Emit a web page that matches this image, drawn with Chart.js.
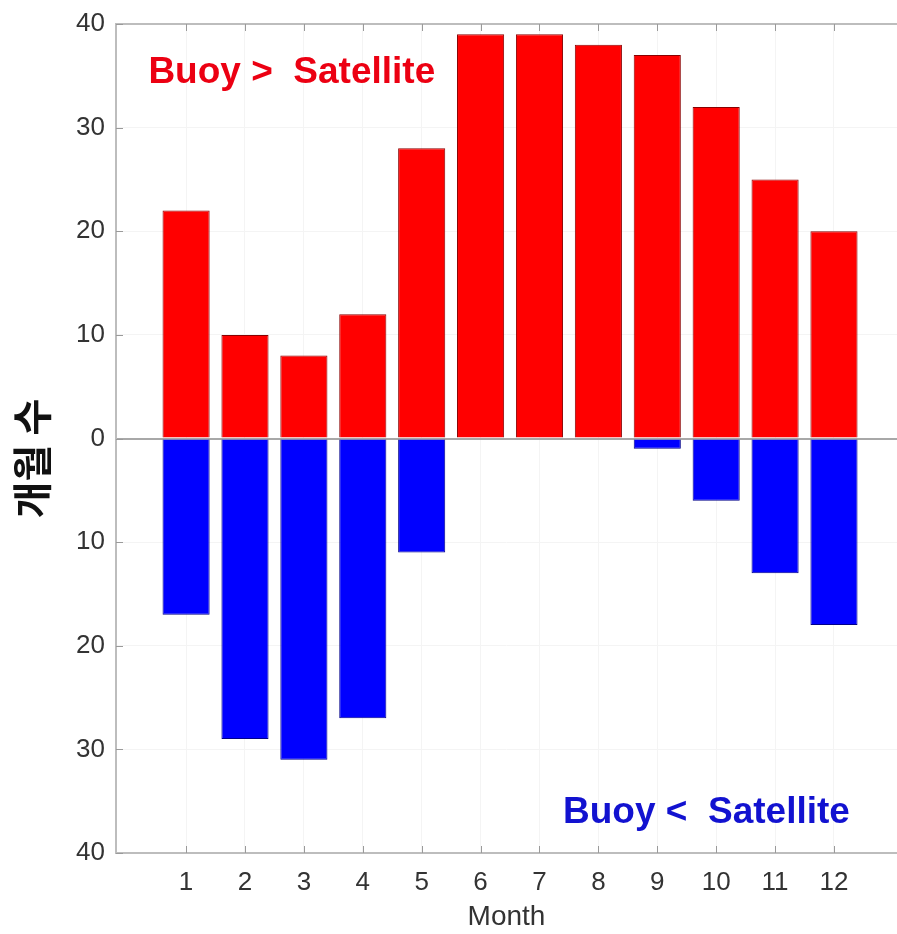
<!DOCTYPE html>
<html>
<head>
<meta charset="utf-8">
<script src="https://cdn.jsdelivr.net/npm/chart.js@4"></script>
<style>
  html, body { margin: 0; padding: 0; background: #ffffff; }
  #wrap { width: 897px; height: 934px; }
</style>
</head>
<body>
<div id="wrap"><canvas id="c" width="897" height="934"></canvas></div>
<script>
// Months of the year on the x axis
const months = [1, 2, 3, 4, 5, 6, 7, 8, 9, 10, 11, 12];
// Number of months where the buoy value exceeds the satellite value
const buoyHigher = [22, 10, 8, 12, 28, 39, 39, 38, 37, 32, 25, 20];
// Number of months where the satellite value exceeds the buoy value
const satelliteHigher = [17, 29, 31, 27, 11, 0, 0, 0, 1, 6, 13, 18];
// Count axis ticks (labels shown as magnitudes)
const countTicks = [-40, -30, -20, -10, 0, 10, 20, 30, 40];

const FONT = "'Liberation Sans', Arial, sans-serif";
const TICK_COLOR = '#333333';
const AXIS_COLOR = '#bdbdbd';

// Axis box with inward tick marks, the rotated y title and the two captions
const decorations = {
  id: 'decorations',
  afterDatasetsDraw(chart) {
    const { ctx, chartArea: a, scales: { x, y } } = chart;
    ctx.save();
    ctx.strokeStyle = AXIS_COLOR;
    ctx.lineWidth = 2;
    ctx.beginPath();
    ctx.moveTo(a.right + 2, a.top);
    ctx.lineTo(a.left, a.top);
    ctx.lineTo(a.left, a.bottom);
    ctx.lineTo(a.right + 2, a.bottom);
    ctx.stroke();

    ctx.lineWidth = 1;
    ctx.strokeStyle = '#9a9a9a';
    ctx.beginPath();
    months.forEach(m => {
      const px = Math.round(x.getPixelForValue(m)) + 0.5;
      ctx.moveTo(px, a.top); ctx.lineTo(px, a.top + 7);
      ctx.moveTo(px, a.bottom); ctx.lineTo(px, a.bottom - 7);
    });
    countTicks.forEach(v => {
      const py = Math.round(y.getPixelForValue(v)) + 0.5;
      ctx.moveTo(a.left, py); ctx.lineTo(a.left + 7, py);
    });
    ctx.stroke();

    // captions
    ctx.font = "bold 37px " + FONT;
    ctx.textBaseline = 'middle';
    ctx.fillStyle = '#ec0012';
    ctx.textAlign = 'left';
    ctx.fillText('Buoy >  Satellite', x.getPixelForValue(0.36), y.getPixelForValue(35.3));
    ctx.fillStyle = '#1212d0';
    ctx.textAlign = 'right';
    ctx.fillText('Buoy <  Satellite', x.getPixelForValue(12.27), y.getPixelForValue(-36.1));

    // y axis title
    ctx.translate(32, (a.top + a.bottom) / 2 + 20);
    ctx.rotate(-Math.PI / 2);
    ctx.font = "bold 40px 'Noto Sans CJK KR', sans-serif";
    ctx.fillStyle = '#111111';
    ctx.textAlign = 'center';
    ctx.fillText('개월 수', 0, 0);
    ctx.restore();
  }
};

new Chart(document.getElementById('c'), {
  type: 'bar',
  data: {
    datasets: [
      {
        label: 'Buoy > Satellite',
        data: months.map((m, i) => ({ x: m, y: buoyHigher[i] })),
        backgroundColor: '#ff0000',
        borderColor: '#8a0000',
        borderWidth: 1
      },
      {
        label: 'Buoy < Satellite',
        data: months.map((m, i) => ({ x: m, y: -satelliteHigher[i] })),
        backgroundColor: '#0000ff',
        borderColor: '#00008a',
        borderWidth: 1
      }
    ]
  },
  options: {
    responsive: false,
    animation: false,
    barPercentage: 0.8,
    categoryPercentage: 1.0,
    layout: { padding: { top: 22, right: 0, left: 0, bottom: 0 } },
    plugins: {
      legend: { display: false },
      tooltip: { enabled: false }
    },
    scales: {
      x: {
        type: 'linear',
        stacked: true,
        offset: false,
        min: -0.19,
        max: 13.07,
        afterBuildTicks: axis => { axis.ticks = months.map(v => ({ value: v })); },
        afterFit: s => { s.height = 81; },
        grid: { color: '#f4f4f4', drawTicks: false, offset: false },
        border: { display: false },
        ticks: {
          padding: 14,
          color: TICK_COLOR,
          font: { family: FONT, size: 26 },
          maxRotation: 0,
          callback: v => String(v)
        },
        title: {
          display: true,
          text: 'Month',
          color: TICK_COLOR,
          font: { family: FONT, size: 28 },
          padding: 0
        }
      },
      y: {
        min: -40,
        max: 40,
        afterBuildTicks: axis => { axis.ticks = countTicks.map(v => ({ value: v })); },
        afterFit: s => { s.width = 116; },
        grid: {
          color: ctx => (ctx.tick && ctx.tick.value === 0 ? '#a8a8a8' : '#f4f4f4'),
          lineWidth: ctx => (ctx.tick && ctx.tick.value === 0 ? 2 : 1),
          drawTicks: false
        },
        border: { display: false },
        ticks: {
          padding: 11,
          color: TICK_COLOR,
          font: { family: FONT, size: 26, lineHeight: 1.0 },
          callback: v => String(Math.abs(v))
        }
      }
    }
  },
  plugins: [decorations]
});
</script>
</body>
</html>
